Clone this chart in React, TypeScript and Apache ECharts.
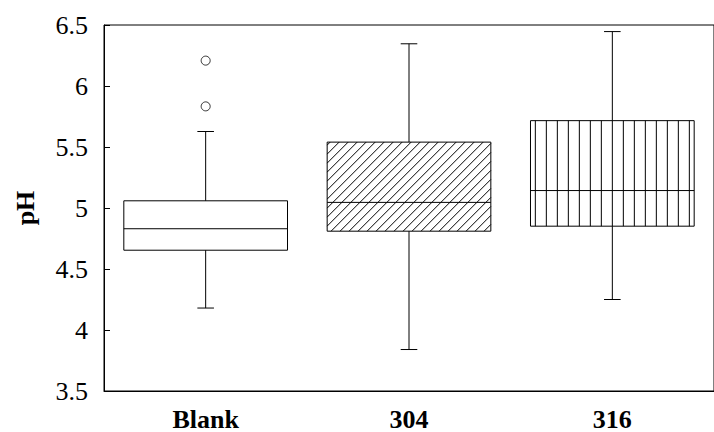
import React, { useEffect, useRef } from "react";
import * as echarts from "echarts";

const categories = ["Blank", "304", "316"];
const whiskerLow = [4.18, 3.84, 4.25];
const q1 = [4.654, 4.81, 4.851];
const median = [4.83, 5.046, 5.143];
const q3 = [5.059, 5.54, 5.716];
const whiskerHigh = [5.627, 6.346, 6.446];
const outlierCategory = [0, 0];
const outlierValues = [5.833, 6.208];
const yTicks = { min: 3.5, max: 6.5, interval: 0.5 };

const hatchKinds = ["none", "diagonal", "vertical"];
const FONT = "'Liberation Serif', 'Times New Roman', serif";

export default function App() {
  const ref = useRef<HTMLDivElement>(null);
  useEffect(() => {
    if (!ref.current) return;
    const chart = echarts.init(ref.current, null, { renderer: "svg" });
    const boxData = categories.map((_, i) => [i, whiskerLow[i], q1[i], median[i], q3[i], whiskerHigh[i]]);
    const line = (x1: number, y1: number, x2: number, y2: number) => ({
      type: "line",
      shape: { x1, y1, x2, y2 },
      style: { stroke: "#000", lineWidth: 1 },
    });
    const renderItem = (params: any, api: any) => {
      const idx = api.value(0);
      const pLow = api.coord([idx, api.value(1)]);
      const pQ1 = api.coord([idx, api.value(2)]);
      const pMed = api.coord([idx, api.value(3)]);
      const pQ3 = api.coord([idx, api.value(4)]);
      const pHigh = api.coord([idx, api.value(5)]);
      const band = api.size([1, 0])[0];
      const w = band * 0.805;
      const cx = pMed[0];
      const x0 = cx - w / 2;
      const x1 = cx + w / 2;
      const y0 = pQ3[1];
      const y1 = pQ1[1];
      const cap = 8.3;
      const children: any[] = [];
      const kind = hatchKinds[idx];
      if (kind === "diagonal") {
        const s = 9;
        for (let c = x0 + y0 + 3; c < x1 + y1; c += s) {
          const xa = Math.max(x0, c - y1);
          const xb = Math.min(x1, c - y0);
          if (xb > xa) children.push(line(xa, c - xa, xb, c - xb));
        }
      } else if (kind === "vertical") {
        const s = 11;
        for (let k = -20; k <= 20; k++) {
          const x = cx + k * s;
          if (x > x0 + 1 && x < x1 - 1) children.push(line(x, y0, x, y1));
        }
      }
      children.push({
        type: "rect",
        shape: { x: x0, y: y0, width: w, height: y1 - y0 },
        style: { fill: "none", stroke: "#000", lineWidth: 1 },
      });
      children.push(line(x0, pMed[1], x1, pMed[1]));
      children.push(line(cx, y0, cx, pHigh[1]));
      children.push(line(cx, y1, cx, pLow[1]));
      children.push(line(cx - cap, pHigh[1], cx + cap, pHigh[1]));
      children.push(line(cx - cap, pLow[1], cx + cap, pLow[1]));
      return { type: "group", children };
    };
    chart.setOption({
      animation: false,
      backgroundColor: "#fff",
      grid: {
        left: 104,
        top: 25,
        width: 620,
        bottom: 37,
        show: true,
        borderColor: "#000",
        borderWidth: 1,
        backgroundColor: "transparent",
      },
      xAxis: {
        type: "category",
        data: categories,
        axisLine: { lineStyle: { color: "#000", width: 1 } },
        axisTick: { show: false },
        axisLabel: {
          color: "#000",
          fontFamily: FONT,
          fontSize: 26,
          fontWeight: "bold",
          margin: 15,
        },
        splitLine: { show: false },
      },
      yAxis: {
        type: "value",
        min: yTicks.min,
        max: yTicks.max,
        interval: yTicks.interval,
        name: "pH",
        nameLocation: "middle",
        nameGap: 66,
        nameTextStyle: { color: "#000", fontFamily: FONT, fontSize: 26, fontWeight: "bold" },
        axisLine: { show: true, lineStyle: { color: "#000", width: 1 } },
        axisTick: { show: true, inside: true, length: 6, lineStyle: { color: "#000" } },
        axisLabel: { color: "#000", fontFamily: FONT, fontSize: 26, margin: 16 },
        splitLine: { show: false },
      },
      series: [
        {
          type: "custom",
          renderItem,
          data: boxData,
          encode: { x: 0, y: [1, 2, 3, 4, 5] },
          clip: false,
        },
        {
          type: "scatter",
          data: outlierCategory.map((c, i) => [c, outlierValues[i]]),
          symbol: "circle",
          symbolSize: 9,
          itemStyle: { color: "#fff", borderColor: "#000", borderWidth: 1 },
        },
      ],
    });
    return () => chart.dispose();
  }, []);
  return (
    <div
      ref={ref}
      style={{ position: "fixed", left: 0, top: 0, width: 714, height: 432, background: "#fff" }}
    />
  );
}
